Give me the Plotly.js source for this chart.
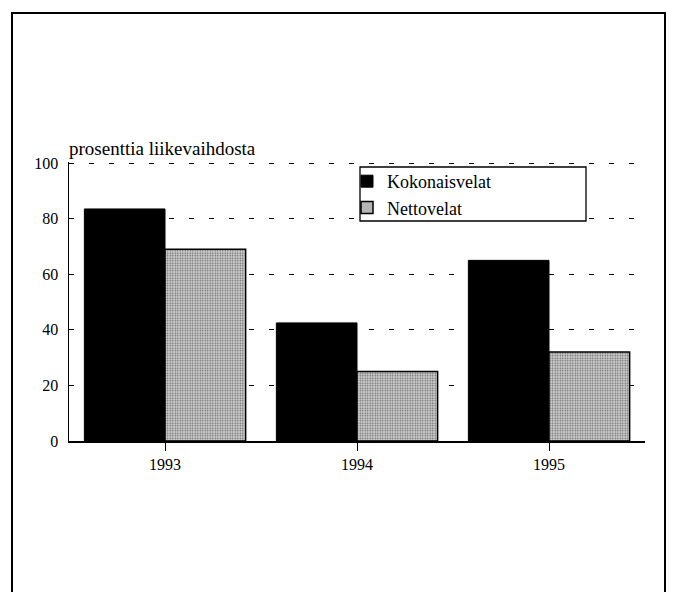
<!DOCTYPE html>
<html>
<head>
<meta charset="utf-8">
<script src="https://cdn.plot.ly/plotly-3.0.1.min.js"></script>
<style>html,body{margin:0;padding:0;background:#fff;}#chart{width:675px;height:592px;}</style>
</head>
<body>
<div id="chart"></div>
<script>
const years = ['1993', '1994', '1995'];
const kokonaisvelat = [83.5, 42.5, 65];
const nettovelat = [69, 25, 32];
const seriesNames = ['Kokonaisvelat', 'Nettovelat'];
const yTicks = [0, 20, 40, 60, 80, 100];
const yLabel = 'prosenttia liikevaihdosta';

const serif = 'Times New Roman';

const traces = [
  {
    type: 'bar', name: seriesNames[0], x: years, y: kokonaisvelat,
    marker: {color: '#000000', line: {color: '#000', width: 1}}
  },
  {
    type: 'bar', name: seriesNames[1], x: years, y: nettovelat,
    marker: {
      color: '#bcbcbc',
      line: {color: '#000', width: 1.5},
      pattern: {shape: '.', fgcolor: '#5e5e5e', bgcolor: '#d0d0d0', size: 2.5, solidity: 0.3}
    }
  }
];

const PW = 576, PH = 279, L = 69, B = 441;
const px = v => (v - L) / PW;
const py = v => (B - v) / PH;

const layout = {
  width: 675, height: 592,
  font: {family: serif, color: '#000'},
  margin: {l: 69, r: 30, t: 162, b: 151},
  paper_bgcolor: '#fff', plot_bgcolor: '#fff',
  barmode: 'group', bargap: 0.16, bargroupgap: 0,
  showlegend: true,
  legend: {
    x: px(347), y: py(163), xanchor: 'left', yanchor: 'top',
    bgcolor: 'rgba(0,0,0,0)', borderwidth: 0,
    font: {family: serif, size: 18, color: '#000'},
    itemwidth: 30, tracegroupgap: 0
  },
  xaxis: {
    type: 'category', range: [-0.5, 2.5],
    showline: true, linecolor: '#000', linewidth: 1.5,
    ticks: 'outside', ticklen: 8, tickcolor: '#000', tickwidth: 1,
    tickfont: {family: serif, size: 16, color: '#000'},
    showgrid: false, zeroline: false, fixedrange: true
  },
  yaxis: {
    range: [0, 100.4], tickvals: yTicks, ticktext: yTicks.map(String),
    showline: true, linecolor: '#000', linewidth: 1.5,
    ticks: 'inside', ticklen: 5, tickcolor: '#000',
    ticklabelstandoff: 6,
    tickfont: {family: serif, size: 16, color: '#000'},
    showgrid: true, gridcolor: '#000', gridwidth: 1, griddash: '5px,15px',
    zeroline: false, fixedrange: true
  },
  annotations: [{
    text: yLabel, xref: 'paper', yref: 'paper', x: 0, y: 1.0,
    xanchor: 'left', yanchor: 'bottom', yshift: 1, xshift: -2, showarrow: false,
    font: {family: serif, size: 19, color: '#000'}
  }],
  shapes: [
    {
      type: 'rect', xref: 'paper', yref: 'paper',
      x0: px(12), x1: px(665), y0: -0.6, y1: py(13),
      line: {color: '#000', width: 2}, fillcolor: 'rgba(0,0,0,0)', layer: 'below'
    },
    {
      type: 'rect', xref: 'paper', yref: 'paper',
      x0: px(360), x1: px(586), y0: py(221), y1: py(167),
      line: {color: '#000', width: 1.3}, fillcolor: '#fff', layer: 'above'
    }
  ]
};

Plotly.newPlot('chart', traces, layout, {displayModeBar: false, staticPlot: true});
</script>
</body>
</html>
